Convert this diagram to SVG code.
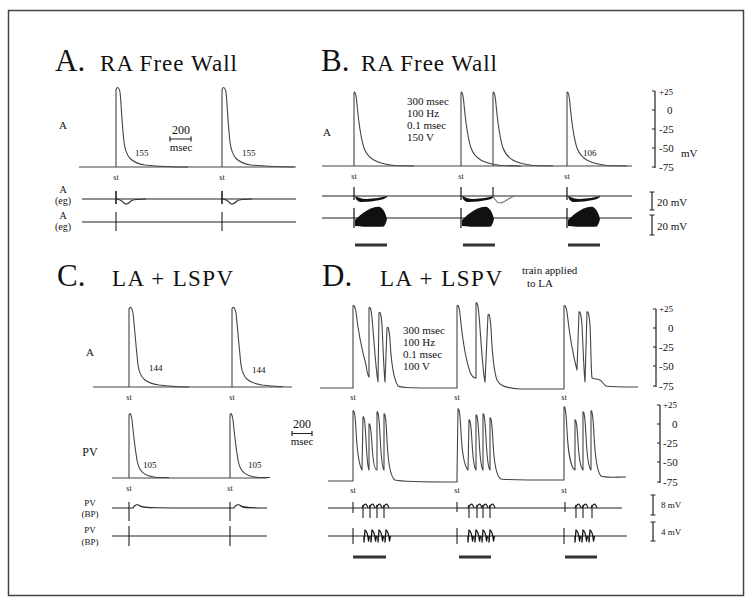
<svg xmlns="http://www.w3.org/2000/svg" width="752" height="607" viewBox="0 0 752 607">
<style>
text{font-family:"Liberation Serif","Times New Roman",serif;fill:#111}
.big{font-size:31px}
.sub{font-size:23px}
.lab{font-size:11px}
.sm{font-size:9px}
.eglab{font-size:10px;text-anchor:middle}
.st{font-size:8px;text-anchor:middle}
.mid{text-anchor:middle}
.tr{fill:none;stroke:#444;stroke-width:1.1;stroke-linejoin:round}
.eg{fill:none;stroke:#222;stroke-width:1.1}
.bar{stroke:#333;stroke-width:3}
.ax{fill:none;stroke:#222;stroke-width:1.2}
.thick{fill:none;stroke:#111;stroke-width:1.3;stroke-linejoin:round}
</style>
<defs>
<path id="spA" d="M0,0 V-77 C1,-81 3,-80 4,-75 C5,-67 6,-42 8,-25 C10,-9 16,-4 29,-2 C44,-0.5 60,0 72,0"/>
<path id="spB" d="M0,0 V-73 C0.5,-75 1.5,-74 2.5,-67 C4,-50 6,-30 10,-18 C14,-7 22,-3 40,-0.5 L60,0"/>
<path id="spCA" d="M0,0 V-78 C1,-81 3,-80 4,-74 C5,-66 7,-40 9,-22 C11,-8 17,-4 30,-2 C45,-0.5 55,0 60,0"/>
<path id="spCP" d="M0,0 V-63 C1,-66 2,-64 3,-58 C4,-48 6,-30 8,-18 C10,-6 15,-2 28,-0.5 H40"/>
<g id="eg1"><path d="M0,-8 V5" stroke="#111" stroke-width="1.5"/><path d="M0,0 C3,0 6,2 8,4 C10,6 12,5 15,2 C17,0.5 20,0 30,0" fill="none" stroke="#333" stroke-width="1.1"/></g>
<g id="bB1"><path d="M0,-9 V4" stroke="#111" stroke-width="1.2"/><path d="M1,0 C2,4 4,6 8,6 C14,6 20,5 26,4 C29,3.5 31,2.5 33,1 L33,0 C28,1.5 20,2.5 13,3 C8,3.2 4,1.5 1,0 Z" fill="#111"/></g>
<g id="bB2"><path d="M0,-10 V10" stroke="#111" stroke-width="1.2"/><path d="M1,2 L1,8 C10,9 22,9 30,8.5 C31,7 32,5 33,1 C32,-3 30,-9 26,-11 C21,-12 15,-9 9,-5 C5,-2 3,0 1,2 Z" fill="#111"/></g>
<path id="bp1" d="M-1,0 L0,-3 L0,10 M0,-1 C1.5,-5 3.5,-5 5,0"/>
<path id="bp2" d="M0,0 L0,6 L1,-6 C3,-5 4,0 4.5,5 L5.5,0"/>
</defs>

<rect x="8.5" y="10.5" width="735" height="585" fill="none" stroke="#444" stroke-width="1.5"/>

<!-- Panel A -->
<g id="panelA">
<text class="big" x="55" y="71">A.</text>
<text class="sub" x="100" y="71" textLength="137" lengthAdjust="spacing">RA Free Wall</text>
<text class="lab mid" x="63" y="129">A</text>
<path class="tr" d="M79,167 H296"/>
<use href="#spA" class="tr" x="116" y="167"/>
<use href="#spA" class="tr" x="222" y="167"/>
<text class="sm" x="135" y="156">155</text>
<text class="sm" x="242" y="156">155</text>
<text class="mid" style="font-size:12px" x="181" y="134">200</text>
<path class="ax" d="M170,139 H191 M170,136.5 V141.5 M191,136.5 V141.5"/>
<text class="lab mid" x="181" y="151">msec</text>
<text class="st" x="116" y="180">st</text>
<text class="st" x="222" y="180">st</text>
<text class="eglab" x="63" y="193">A</text>
<text class="eglab" x="63" y="204">(eg)</text>
<path class="eg" d="M82,199 H296"/>
<use href="#eg1" x="116" y="199"/>
<use href="#eg1" x="222" y="199"/>
<text class="eglab" x="63" y="219">A</text>
<text class="eglab" x="63" y="230">(eg)</text>
<path class="eg" d="M82,222 H296 M116,212 V231 M222,212 V231"/>
</g>

<!-- Panel B -->
<g id="panelB">
<text class="big" x="321" y="71">B.</text>
<text class="sub" x="361" y="71" textLength="136" lengthAdjust="spacing">RA Free Wall</text>
<text class="lab mid" x="327" y="136">A</text>
<path class="tr" d="M322,166 H632"/>
<use href="#spB" class="tr" x="354" y="166"/>
<use href="#spB" class="tr" x="461" y="166"/>
<use href="#spB" class="tr" x="493" y="166"/>
<use href="#spB" class="tr" x="567" y="166"/>
<text class="lab" x="407" y="105">300  msec</text>
<text class="lab" x="407" y="117">100 Hz</text>
<text class="lab" x="407" y="129">0.1 msec</text>
<text class="lab" x="407" y="141">150 V</text>
<text class="sm" x="583" y="156">106</text>
<text class="st" x="354" y="179">st</text>
<text class="st" x="461" y="179">st</text>
<text class="st" x="567" y="179">st</text>
<path class="ax" d="M655,91 V168 M652,91 H655 M652,110 H655 M652,129 H655 M652,148 H655 M652,167 H655"/>
<text class="sm" x="659" y="95">+25</text>
<text class="lab" x="667" y="114">0</text>
<text class="lab" x="659" y="133">-25</text>
<text class="lab" x="659" y="152">-50</text>
<text class="lab" x="659" y="171">-75</text>
<text class="lab" x="681" y="157">mV</text>
<path class="eg" d="M322,196 H632"/>
<use href="#bB1" x="354" y="196"/>
<use href="#bB1" x="461" y="196"/>
<use href="#bB1" x="567" y="196"/>
<path d="M493,196 V187" stroke="#111" stroke-width="1.1"/>
<path d="M493,196 C495,200 497,203 500,203 C504,203 508,198 515,196" fill="none" stroke="#777" stroke-width="1.1"/>
<path class="eg" d="M322,218 H632"/>
<use href="#bB2" x="354" y="218"/>
<use href="#bB2" x="461" y="218"/>
<use href="#bB2" x="567" y="218"/>
<path class="ax" d="M652,192 V210 M649.5,192 H654.5 M649.5,210 H654.5 M652,215 V235 M649.5,215 H654.5 M649.5,235 H654.5"/>
<text class="lab" x="657" y="206">20 mV</text>
<text class="lab" x="657" y="230">20 mV</text>
<path class="bar" d="M355,245 H387 M463,245 H495 M568,245 H600"/>
</g>

<!-- Panel C -->
<g id="panelC">
<text class="big" x="57" y="286">C.</text>
<text class="sub" x="112" y="286" textLength="121" lengthAdjust="spacing">LA + LSPV</text>
<text class="lab mid" x="90" y="356">A</text>
<path class="tr" d="M93,387 H283"/>
<use href="#spCA" class="tr" x="129" y="387"/>
<use href="#spCA" class="tr" x="232" y="387"/>
<text class="sm" x="149" y="371">144</text>
<text class="sm" x="252" y="373">144</text>
<text class="st" x="129" y="400">st</text>
<text class="st" x="232" y="400">st</text>
<text class="mid" style="font-size:12px" x="90" y="456">PV</text>
<path class="tr" d="M112,478 H267"/>
<use href="#spCP" class="tr" x="129" y="478"/>
<use href="#spCP" class="tr" x="230" y="478"/>
<text class="sm" x="143" y="468">105</text>
<text class="sm" x="248" y="468">105</text>
<text class="st" x="129" y="491">st</text>
<text class="st" x="230" y="491">st</text>
<text class="sm mid" x="90" y="506">PV</text>
<text class="sm mid" x="90" y="517">(BP)</text>
<path class="eg" d="M112,508 H133 C135,504 138,504 140,506 C142,508 150,508 234,508 C236,504 239,504 241,506 C243,508 250,508 267,508"/>
<path class="eg" d="M129,502 V521 M230,502 V521"/>
<text class="sm mid" x="90" y="533">PV</text>
<text class="sm mid" x="90" y="545">(BP)</text>
<path class="eg" d="M112,536 H267 M129,526 V546 M230,526 V546"/>
</g>

<!-- shared time scale -->
<g id="timescale">
<text class="mid" style="font-size:12px" x="302" y="428">200</text>
<path class="ax" d="M292,433.5 H312 M292,431 V436 M312,431 V436"/>
<text class="lab mid" x="302" y="445">msec</text>
</g>

<!-- Panel D -->
<g id="panelD">
<text class="big" x="322" y="286">D.</text>
<text class="sub" x="380" y="286" textLength="122" lengthAdjust="spacing">LA + LSPV</text>
<text style="font-size:11px" x="522" y="274">train applied</text>
<text style="font-size:11px" x="527" y="287">to LA</text>
<path class="tr" d="M320,388 L353,388 L353,306 C354,305 355,306 356,312 C358,330 362,350 366,365 C367,372 368,376 369,377 L369,308 C370,306 371,308 372,318 C374,340 376,372 378,382 L379,313 C380,311 381,313 382,325 C383,345 384,375 385,382 L387,328 C388,326 389,328 390,340 C391,360 393,378 398,386 C402,388 410,388 457,388 L457,306 C458,304 459,306 460,314 C462,335 466,360 470,372 C472,377 474,378 476,378 L476,303 C477,302 478,304 479,315 C481,340 483,375 485,382 L488,315 C489,313 490,315 491,328 C492,350 494,372 497,380 C500,386 506,388 520,389 L564,389 L564,306 C565,305 566,306 567,312 C569,330 573,355 577,370 L579,312 C580,311 581,313 582,325 C583,345 584,375 585,382 L587,312 C588,311 589,313 590,325 C591,345 591,372 592,378 C594,379 598,379 600,380 C602,381 603,384 606,386 C610,387 620,387 638,387"/>
<text class="lab" x="403" y="334">300  msec</text>
<text class="lab" x="403" y="346">100 Hz</text>
<text class="lab" x="403" y="358">0.1 msec</text>
<text class="lab" x="403" y="370">100 V</text>
<text class="st" x="353" y="400">st</text>
<text class="st" x="457" y="400">st</text>
<text class="st" x="564" y="400">st</text>
<path class="ax" d="M656,309 V387 M653,309 H656 M653,328 H656 M653,347 H656 M653,366 H656 M653,386 H656"/>
<text class="sm" x="659" y="312">+25</text>
<text class="lab" x="668" y="332">0</text>
<text class="lab" x="659" y="351">-25</text>
<text class="lab" x="659" y="370">-50</text>
<text class="lab" x="659" y="390">-75</text>
<path class="tr" d="M328,481 L353,481 L353,411 C354,410 355,412 356,430 C357,450 359,465 362,470 L363,417 C364,416 365,420 366,440 C367,460 368,468 369,470 L369,424 C370,423 371,428 372,445 C373,462 375,470 377,470 L377,412 C378,411 379,415 380,435 C381,455 382,468 384,470 L384,414 C385,413 386,418 387,440 C388,462 390,477 395,480 C400,481.5 420,482 457,482 L457,476 L458,409 C459,408 460,412 461,432 C462,452 464,466 468,470 L469,420 C470,419 471,424 472,442 C473,460 474,468 476,470 L476,415 C477,414 478,419 479,438 C480,458 481,468 483,470 L483,414 C484,413 485,418 486,438 C487,458 488,468 490,470 L490,418 C491,417 492,422 493,442 C494,462 496,477 501,479 C505,480 520,480 564,480 L564,407 C565,406 566,410 567,430 C568,452 571,468 575,470 L575,420 C576,419 577,424 578,442 C579,460 581,468 583,470 L583,412 C584,411 585,416 586,436 C587,456 589,468 591,470 L591,411 C592,410 593,415 594,435 C595,455 597,472 601,476 C605,478 615,477 626,477"/>
<text class="st" x="353" y="493">st</text>
<text class="st" x="457" y="493">st</text>
<text class="st" x="564" y="493">st</text>
<path class="ax" d="M660,405 V483 M657,405 H660 M657,424 H660 M657,443 H660 M657,462 H660 M657,482 H660"/>
<text class="sm" x="663" y="408">+25</text>
<text class="lab" x="672" y="428">0</text>
<text class="lab" x="663" y="447">-25</text>
<text class="lab" x="663" y="466">-50</text>
<text class="lab" x="663" y="486">-75</text>
<path class="eg" d="M328,508 H622"/>
<path class="eg" d="M353,502 V513"/>
<use href="#bp1" class="eg" x="363" y="508"/>
<use href="#bp1" class="eg" x="370" y="508"/>
<use href="#bp1" class="eg" x="377" y="508"/>
<use href="#bp1" class="eg" x="384" y="508"/>
<path class="eg" d="M457,502 V512"/>
<use href="#bp1" class="eg" x="469" y="508"/>
<use href="#bp1" class="eg" x="477" y="508"/>
<use href="#bp1" class="eg" x="483" y="508"/>
<use href="#bp1" class="eg" x="490" y="508"/>
<path class="eg" d="M565,502 V512"/>
<use href="#bp1" class="eg" x="576" y="508"/>
<use href="#bp1" class="eg" x="583" y="508"/>
<use href="#bp1" class="eg" x="592" y="508"/>
<path class="eg" d="M328,536 H627"/>
<path class="eg" d="M353,528 V544 M457,528 V544 M564,528 V544"/>
<use href="#bp2" class="thick" x="364" y="536"/>
<use href="#bp2" class="thick" x="371" y="536"/>
<use href="#bp2" class="thick" x="378" y="536"/>
<use href="#bp2" class="thick" x="385" y="536"/>
<use href="#bp2" class="thick" x="468" y="536"/>
<use href="#bp2" class="thick" x="475" y="536"/>
<use href="#bp2" class="thick" x="482" y="536"/>
<use href="#bp2" class="thick" x="489" y="536"/>
<use href="#bp2" class="thick" x="575" y="536"/>
<use href="#bp2" class="thick" x="582" y="536"/>
<use href="#bp2" class="thick" x="589" y="536"/>
<path class="ax" d="M653,495 V515 M650.5,495 H655.5 M650.5,515 H655.5 M653,522 V541 M650.5,522 H655.5 M650.5,541 H655.5"/>
<text class="sm" x="661" y="508">8 mV</text>
<text class="sm" x="661" y="535">4 mV</text>
<path class="bar" d="M353,557 H386 M459,557 H491 M565,557 H597"/>
</g>
</svg>
